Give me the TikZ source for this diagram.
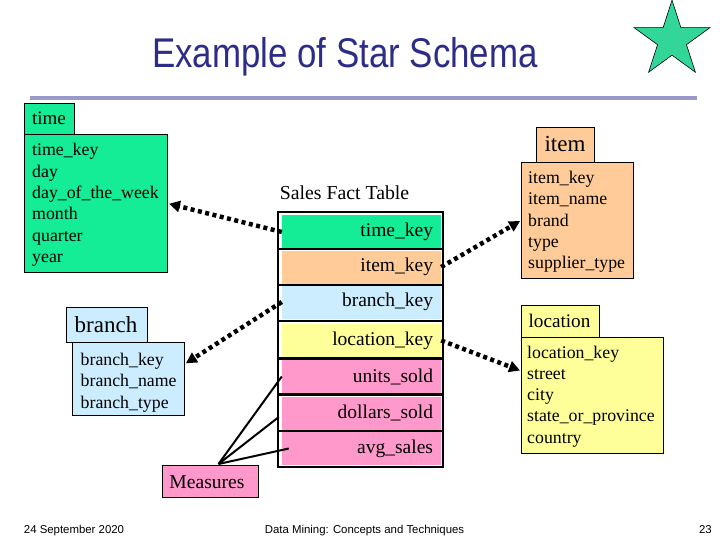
\documentclass[tikz,border=0pt]{standalone}
\usepackage{fontspec}
\setmainfont{Liberation Serif}
\newfontfamily\titlefont[FakeStretch=0.84]{Liberation Sans}
\newfontfamily\footfont{Liberation Sans}
\usetikzlibrary{arrows.meta,shapes.geometric,calc}
\definecolor{titlecol}{RGB}{45,45,135}
\definecolor{rulecol}{RGB}{153,153,204}
\definecolor{starcol}{RGB}{51,214,153}
\definecolor{timecol}{RGB}{20,236,150}
\definecolor{itemcol}{RGB}{255,204,153}
\definecolor{branchcol}{RGB}{204,236,255}
\definecolor{loccol}{RGB}{255,255,153}
\definecolor{meascol}{RGB}{255,153,204}
\newcommand{\attrlist}[1]{{\fontsize{17.8}{21.3}\selectfont\begin{tabular}[t]{@{}l@{}}#1\end{tabular}}}
\tikzset{
  dimbox/.style={draw=black, line width=1pt, inner sep=0pt, anchor=north west},
  lblbox/.style={draw=black, line width=1pt, inner sep=0pt, anchor=north west},
  lbltext/.style={inner sep=0pt, anchor=base},
  attrtext/.style={inner sep=0pt, anchor=base west},
  factrow/.style={inner ysep=0pt, inner xsep=8pt, minimum height=33pt, text width=143pt, align=right, font=\fontsize{19.5}{22}\selectfont},
  sepline/.style={line width=2.5pt, black},
  fk/.style={line width=4.5pt, dash pattern=on 4pt off 3.5pt, black, shorten >=1pt,
     -{Triangle[length=11pt,width=11pt]}},
  measline/.style={line width=2pt, black},
}
\begin{document}
\begin{tikzpicture}[x=1pt,y=-1pt]
\useasboundingbox[fill=white] (0,0) rectangle (720,540);

% title, rule, star
\node[lbltext, text=titlecol, font=\titlefont\fontsize{41.5}{44}\selectfont] (title) at (345,67.7) {Example of Star Schema};
\fill[rulecol] (30,96) rectangle (697,100);
\node[star, star points=5, star point ratio=2.618, minimum size=79.6pt, inner sep=0pt, fill=starcol, draw=black, line width=0.6pt] (star) at (672,40) {};

% time dimension
\node[lblbox, fill=timecol, minimum width=50pt, minimum height=31pt] (timelbl) at (24,103) {};
\node[lbltext, font=\fontsize{19}{21}\selectfont] (timelbltext) at (49,125) {time};
\node[dimbox, fill=timecol, minimum width=143pt, minimum height=138pt] (time) at (24,134) {};
\node[attrtext] (timeattr) at (32,156) {\attrlist{time\_key\\day\\day\_of\_the\_week\\month\\quarter\\year}};

% item dimension
\node[lblbox, fill=itemcol, minimum width=58pt, minimum height=35pt] (itemlbl) at (536,127) {};
\node[lbltext, font=\fontsize{23}{25}\selectfont] (itemlbltext) at (565,152) {item};
\node[dimbox, fill=itemcol, minimum width=112pt, minimum height=116pt] (item) at (521,162) {};
\node[attrtext] (itemattr) at (528,183.5) {\attrlist{item\_key\\item\_name\\brand\\type\\supplier\_type}};

% location dimension
\node[lblbox, fill=loccol, minimum width=78pt, minimum height=32pt] (loclbl) at (521,305) {};
\node[lbltext, font=\fontsize{19.2}{21}\selectfont] (loclbltext) at (559.5,327) {location};
\node[dimbox, fill=loccol, minimum width=142pt, minimum height=116pt] (location) at (521,337) {};
\node[attrtext] (locattr) at (527,358) {\attrlist{location\_key\\street\\city\\state\_or\_province\\country}};

% branch dimension
\node[lblbox, fill=branchcol, minimum width=81pt, minimum height=35pt] (branchlbl) at (66,307) {};
\node[lbltext, font=\fontsize{23}{25}\selectfont] (branchlbltext) at (106,332) {branch};
\node[dimbox, fill=branchcol, minimum width=112pt, minimum height=73pt] (branch) at (72,342) {};
\node[attrtext] (branchattr) at (80.5,365.5) {\attrlist{branch\_key\\branch\_name\\branch\_type}};

% fact table
\node[lbltext, font=\fontsize{19.8}{22}\selectfont] (facttitle) at (344.5,200) {Sales Fact Table};
\node[factrow, fill=timecol] (ftime) at (361.5,232) {time\_key};
\node[factrow, fill=itemcol] (fitem) at (361.5,267) {item\_key};
\node[factrow, fill=branchcol] (fbranch) at (361.5,302) {branch\_key};
\node[factrow, fill=loccol] (floc) at (361.5,340.5) {location\_key};
\node[factrow, fill=meascol] (funits) at (361.5,376.5) {units\_sold};
\node[factrow, fill=meascol] (fdollars) at (361.5,413) {dollars\_sold};
\node[factrow, fill=meascol] (favg) at (361.5,448.5) {avg\_sales};
\draw[sepline] (278,212) rectangle (443,467);
\foreach \yy in {249,285,321,358.5,394.5,431}{
  \draw[sepline] (278,\yy) -- (443,\yy);
}

% measures
\node[lblbox, fill=meascol, minimum width=96pt, minimum height=32pt] (meas) at (162,465) {};
\node[lbltext, font=\fontsize{19.6}{22}\selectfont] (meastext) at (207,488) {Measures};
\coordinate (mtop) at ($(meas.north)+(8,-1)$);
\draw[measline] (mtop) -- (funits.west);
\draw[measline] (mtop) -- ($(fdollars.west)+(-3,4)$);
\draw[measline] (mtop) -- ($(favg.west)+(7,0)$);

% foreign key connectors
\draw[fk] (ftime.west) -- (time.east);
\draw[fk] (fitem.east) -- (item.west);
\draw[fk] (fbranch.west) -- (branch.15);
\draw[fk] (floc.east) -- (location.161);

% footer
\node[lbltext, font=\footfont\fontsize{11.4}{13}\selectfont] (date) at (74,533) {24 September 2020};
\node[lbltext, font=\footfont\fontsize{11.4}{13}\selectfont] (course) at (364.5,533) {Data Mining: Concepts and Techniques};
\node[inner sep=0pt, anchor=base east, font=\footfont\fontsize{11.4}{13}\selectfont] (page) at (712,533) {23};
\end{tikzpicture}
\end{document}
